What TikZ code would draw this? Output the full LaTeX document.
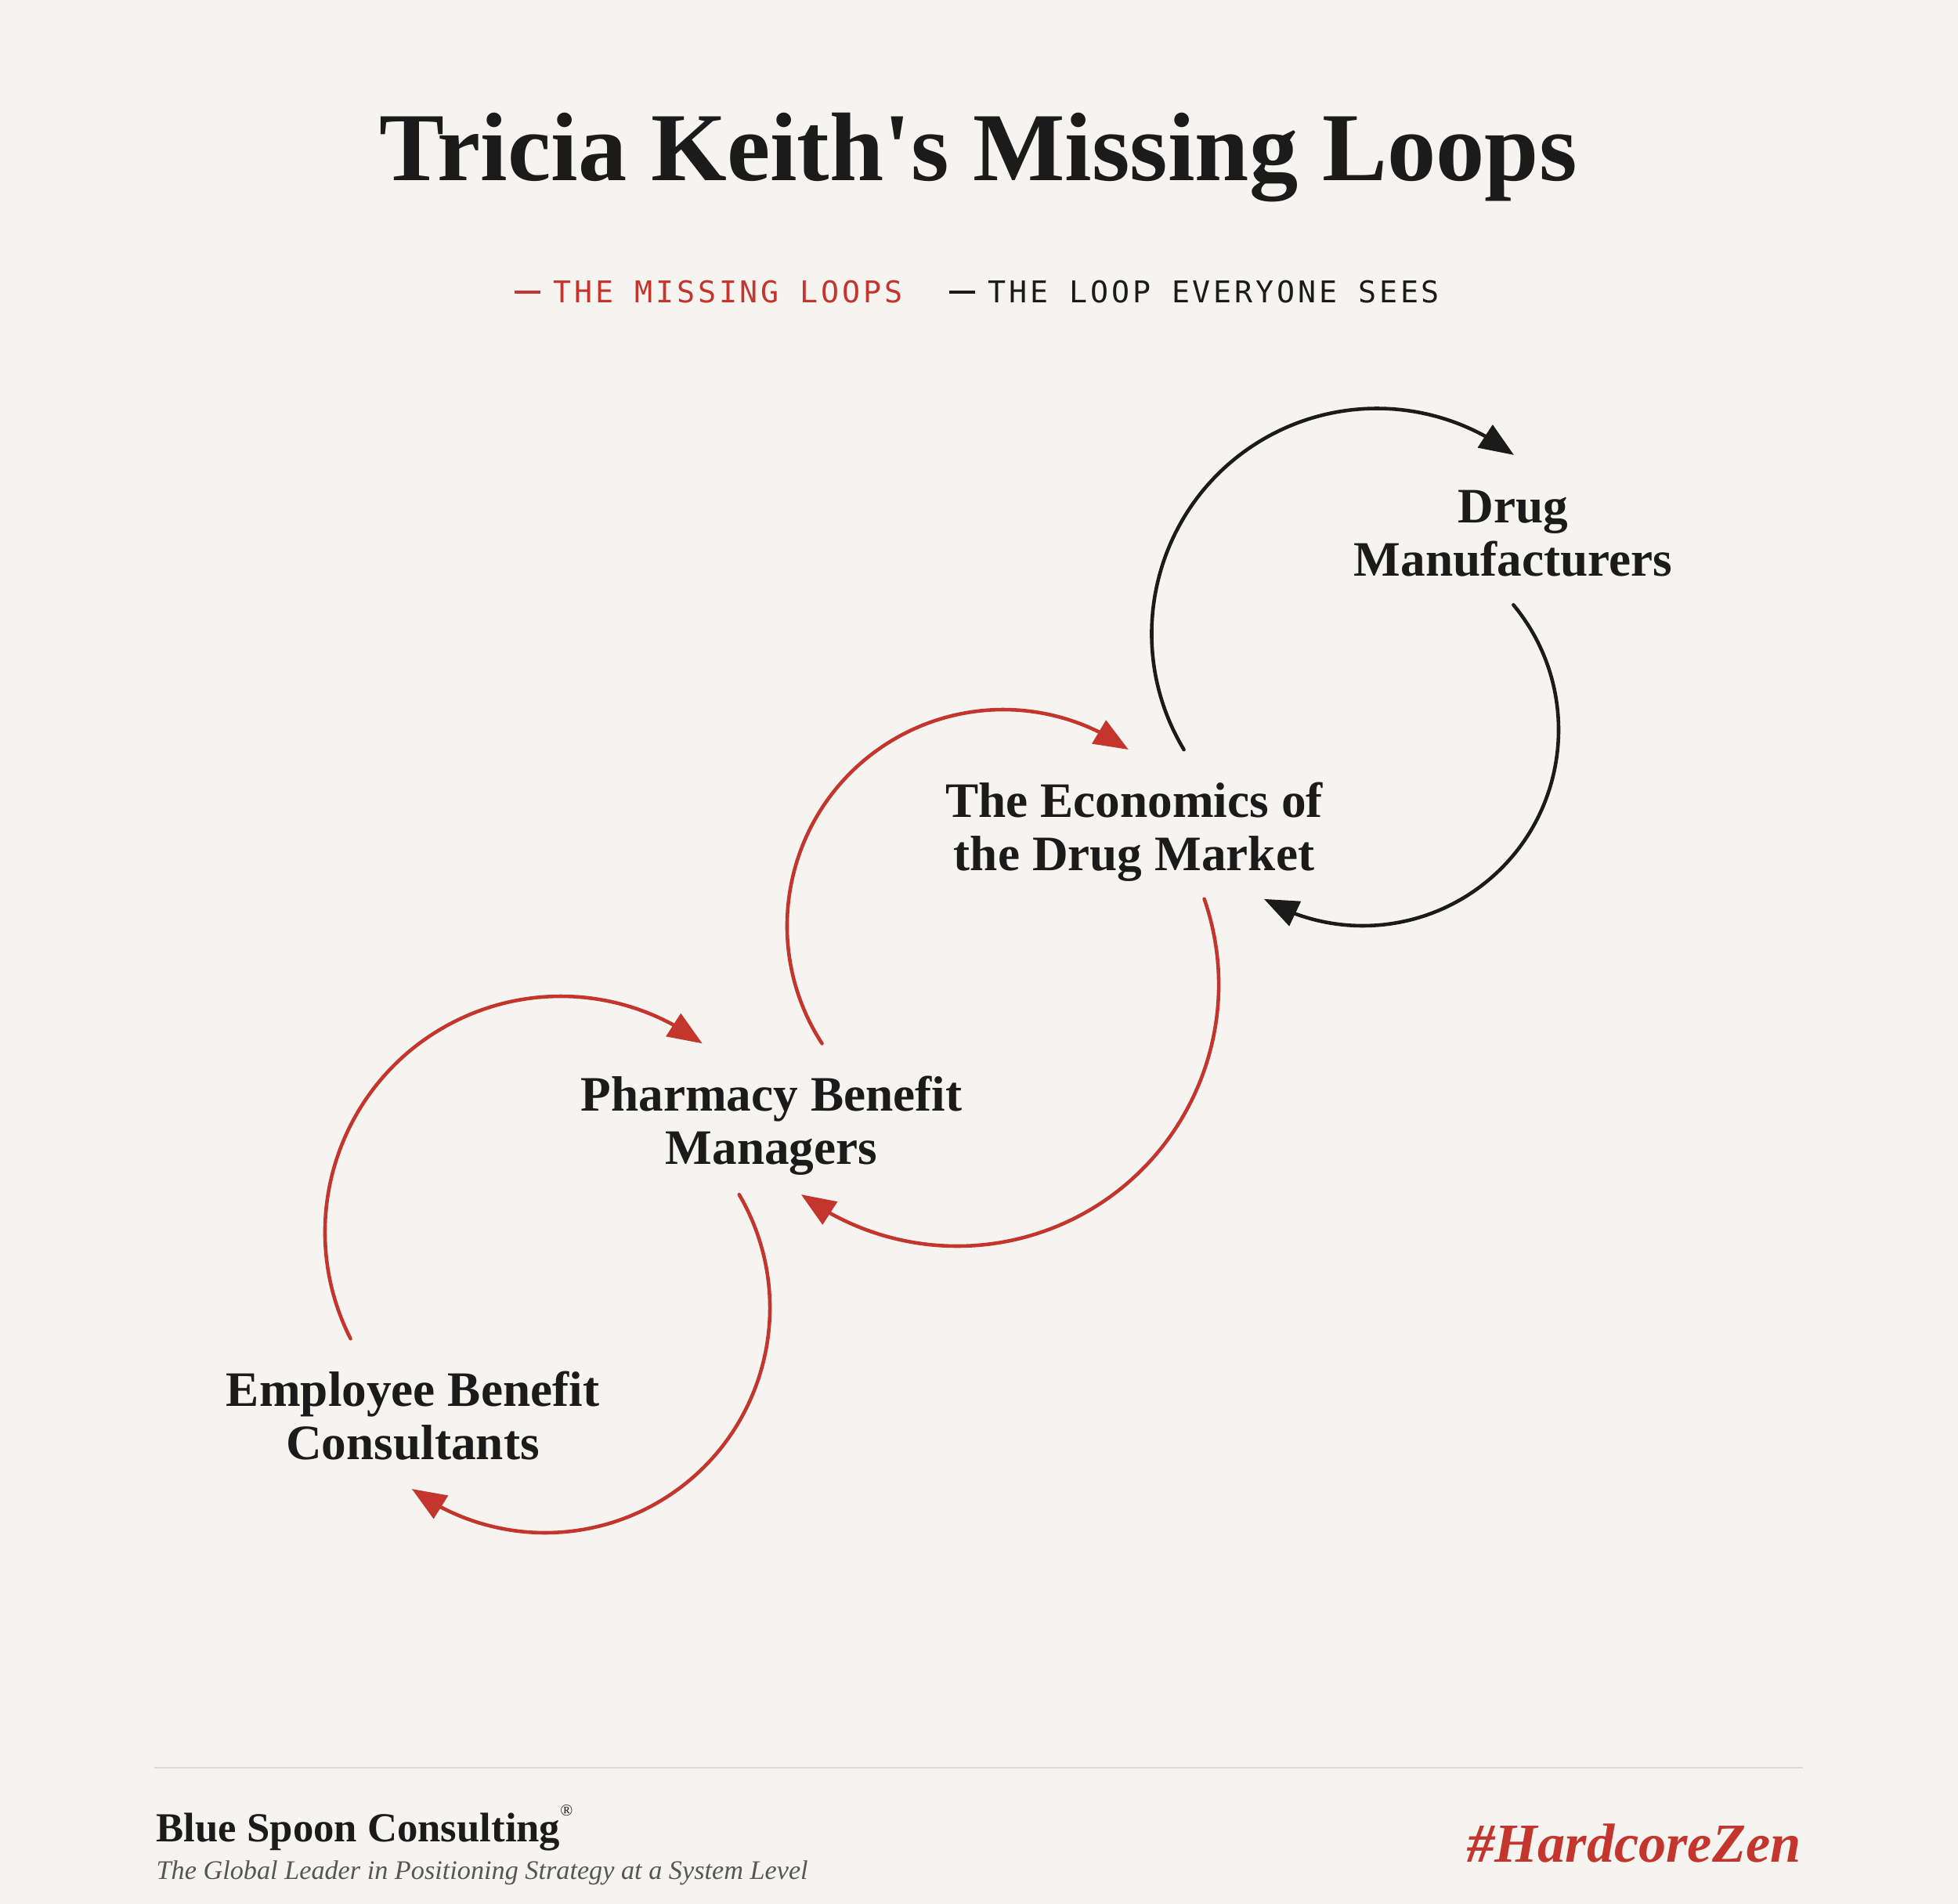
\documentclass[tikz,border=0pt]{standalone}
\usepackage{fontspec}
\setmainfont{Liberation Serif}
\setmonofont[LetterSpace=10]{DejaVu Sans Mono}
\usetikzlibrary{arrows.meta,bending}

\definecolor{paper}{HTML}{F5F4F0}
\definecolor{ink}{HTML}{1B1B1B}
\definecolor{loopred}{HTML}{C4352D}
\definecolor{rulegray}{HTML}{DDDBD6}
\definecolor{taggray}{HTML}{565656}

\tikzset{
  actor/.style={align=center, inner sep=0pt, anchor=base, text=ink,
    font=\fontsize{18}{19.1}\selectfont\bfseries},
  keytext/.style={anchor=base west, inner sep=0pt,
    font=\fontsize{10.9}{13}\selectfont\ttfamily},
  seenloop/.style={draw=ink, line width=1.3pt, line cap=round,
    -{Triangle[flex,length=4.4mm,width=3.4mm]}},
  missloop/.style={seenloop, draw=loopred}
}

\begin{document}
\begin{tikzpicture}
    \fill[paper] (0,0) rectangle (25,-24.31);
    \node[anchor=base, inner sep=0pt, text=ink,
      font=\fontsize{35.4}{42}\selectfont\bfseries] (title) at (12.49,-2.31)
      {Tricia Keith\textquotesingle s Missing Loops};
    % key
    \node[keytext, text=loopred] (keymissing) at (7.06,-3.87) {THE MISSING LOOPS};
    \node[keytext, text=ink] (keyseen) at (12.61,-3.87) {THE LOOP EVERYONE SEES};
    \draw[loopred, line width=1.3pt] ([xshift=-0.49cm,yshift=0.14cm]keymissing.base west) -- ++(0.33,0);
    \draw[ink, line width=1.3pt] ([xshift=-0.49cm,yshift=0.14cm]keyseen.base west) -- ++(0.33,0);
    % actors (base = last line)
    \node[actor] (mfr) at (19.32,-7.35) {Drug\\Manufacturers};
    \node[actor] (econ) at (14.48,-11.11) {The Economics of\\the Drug Market};
    \node[actor] (pbm) at (9.85,-14.86) {Pharmacy Benefit\\Managers};
    \node[actor] (ebc) at (5.27,-18.63) {Employee Benefit\\Consultants};
    % loop hubs
    \coordinate (econ-mfr) at (17.58,-8.09);
    \coordinate (mfr-econ) at (17.40,-9.32);
    \coordinate (pbm-econ) at (12.81,-11.82);
    \coordinate (econ-pbm) at (12.22,-12.57);
    \coordinate (ebc-pbm) at (7.16,-15.73);
    \coordinate (pbm-ebc) at (6.96,-16.70);
    \draw[seenloop] (econ-mfr) ++(211:2.875) arc[start angle=211, end angle=52.5, radius=2.875];
    \draw[seenloop] (mfr-econ) ++(39.7:2.50) arc[start angle=39.7, end angle=-120.3, radius=2.50];
    \draw[missloop] (pbm-econ) ++(213:2.76) arc[start angle=213, end angle=54.6, radius=2.76];
    \draw[missloop] (econ-pbm) ++(19.1:3.34) arc[start angle=19.1, end angle=-126.6, radius=3.34];
    \draw[missloop] (ebc-pbm) ++(206.9:3.01) arc[start angle=206.9, end angle=53.1, radius=3.01];
    \draw[missloop] (pbm-ebc) ++(30.3:2.87) arc[start angle=30.3, end angle=-126.4, radius=2.87];
    % footer
    \draw[rulegray, line width=0.6pt] (1.97,-22.57) -- (23.02,-22.57);
    \node[anchor=base west, inner sep=0pt, text=ink,
      font=\fontsize{15}{18}\selectfont\bfseries] (brand) at (1.99,-23.51)
      {Blue Spoon Consulting\raisebox{0.62em}{\fontsize{6}{6}\selectfont\mdseries ®}};
    \node[anchor=base west, inner sep=0pt, text=taggray,
      font=\fontsize{9.74}{11}\selectfont\itshape] (motto) at (1.99,-23.99)
      {The Global Leader in Positioning Strategy at a System Level};
    \node[anchor=base east, inner sep=0pt, text=loopred,
      font=\fontsize{20}{24}\selectfont\bfseries\itshape] (tag) at (23.00,-23.77)
      {\#HardcoreZen};
\end{tikzpicture}
\end{document}
